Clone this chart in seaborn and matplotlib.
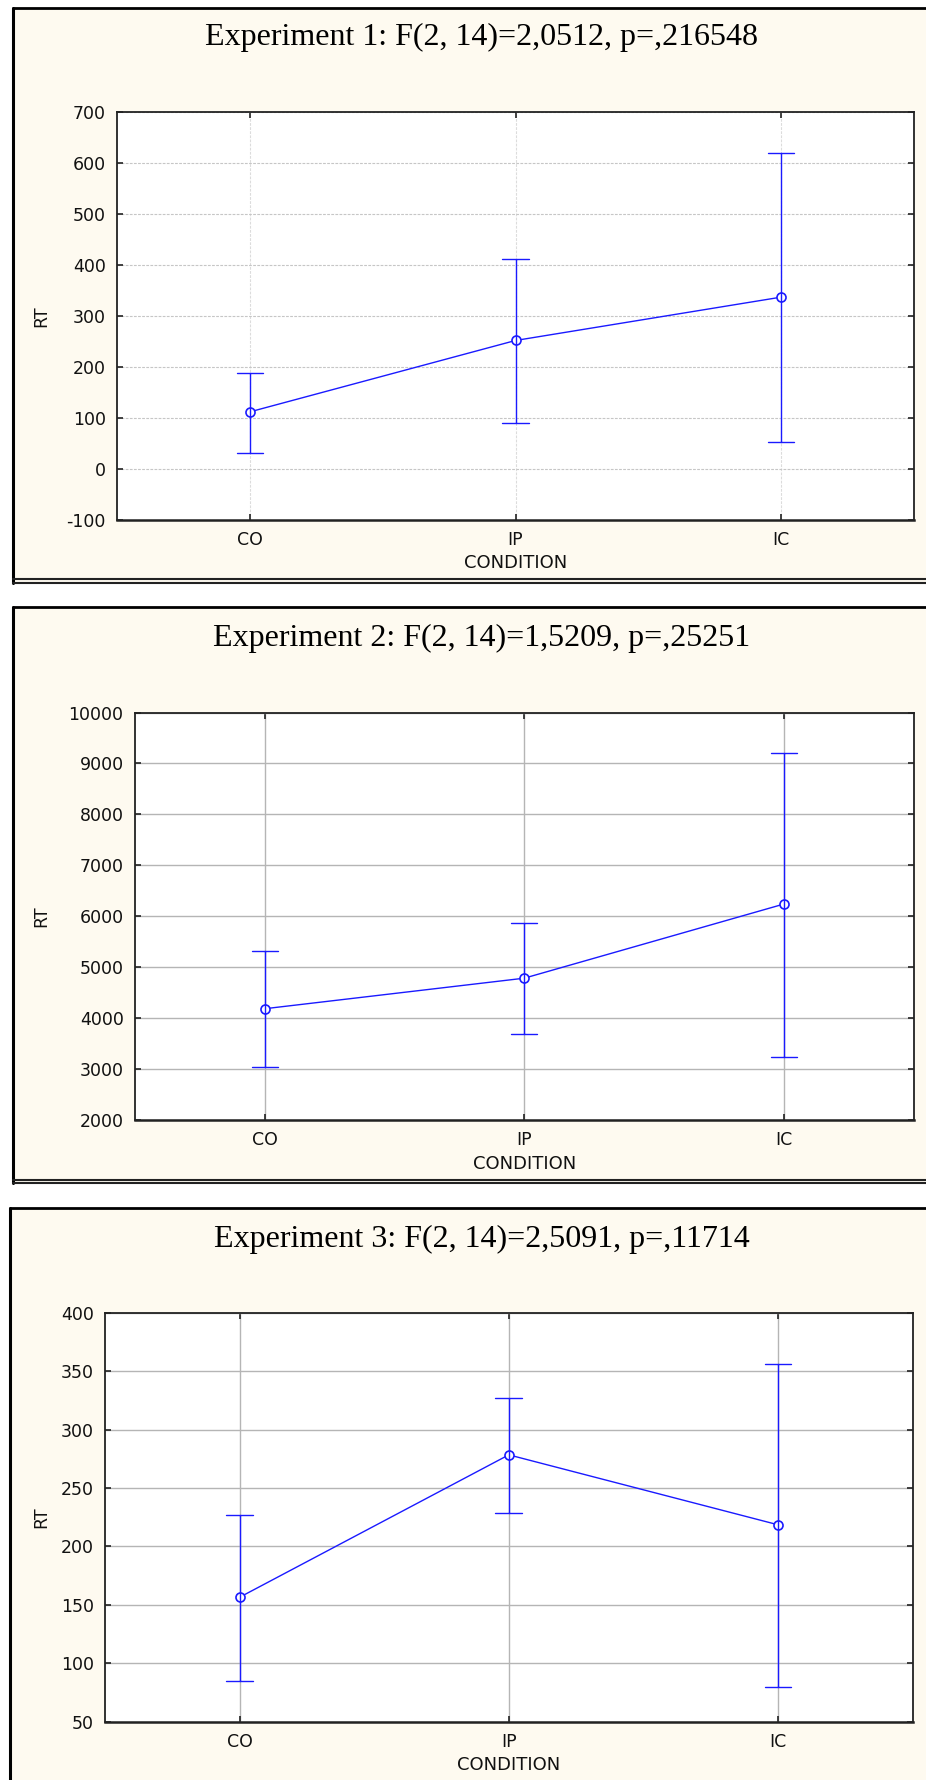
import numpy as np
import pandas as pd
import matplotlib
matplotlib.use("Agg")
import matplotlib.pyplot as plt
from matplotlib.patches import Rectangle
from matplotlib.lines import Line2D
import seaborn as sns

# ---------------- data ----------------
conditions = ["CO", "IP", "IC"]

titles = [
    "Experiment 1: F(2, 14)=2,0512, p=,216548",
    "Experiment 2: F(2, 14)=1,5209, p=,25251",
    "Experiment 3: F(2, 14)=2,5091, p=,11714",
]

exp1_mean = [112, 252, 337]
exp1_low = [32, 90, 52]
exp1_high = [189, 411, 619]

exp2_mean = [4184, 4784, 6240]
exp2_low = [3036, 3681, 3231]
exp2_high = [5317, 5872, 9212]

exp3_mean = [156.5, 278.5, 218.6]
exp3_low = [84.5, 228.5, 80]
exp3_high = [227.3, 327.5, 356.5]

y_limits = [(-100, 700), (2000, 10000), (50, 400)]
y_ticks = [
    [-100, 0, 100, 200, 300, 400, 500, 600, 700],
    [2000, 3000, 4000, 5000, 6000, 7000, 8000, 9000, 10000],
    [50, 100, 150, 200, 250, 300, 350, 400],
]
x_label = "CONDITION"
y_label = "RT"

# ---------------- layout (pixels) ----------------
W, H = 926, 1780
DPI = 100
frames = [(13, 7.5, 583), (13, 607, 1183), (9.5, 1207.7, 1800)]
axes_px = [(117, 112, 914, 520), (134.7, 712.5, 913.8, 1120), (105, 1313, 912.6, 1721.6)]
title_y = [37.6, 638, 1239]
title_x = 482
xlabel_y = [563, 1164, 1765]
ylabel_x = 41
ygrid_styles = [
    dict(color="#c6c6c6", linestyle=(0, (2.5, 1.2)), linewidth=0.8),
    dict(color="#b5b5b5", linestyle="-", linewidth=1.0),
    dict(color="#b5b5b5", linestyle="-", linewidth=1.0),
]
xgrid_styles = [
    dict(color="#dcdcdc", linestyle=(0, (2.5, 1.2)), linewidth=0.8),
    dict(color="#b5b5b5", linestyle="-", linewidth=1.0),
    dict(color="#b5b5b5", linestyle="-", linewidth=1.0),
]

sns.set_theme(style="white")
plt.rcParams["font.family"] = ["DejaVu Sans"]
plt.rcParams["axes.unicode_minus"] = False

fig = plt.figure(figsize=(W / DPI, H / DPI), dpi=DPI)
fig.patch.set_facecolor("white")

cream = "#fefaf0"

def fx(x):
    return x / W

def fy(y):
    return 1 - y / H

means = [exp1_mean, exp2_mean, exp3_mean]
lows = [exp1_low, exp2_low, exp3_low]
highs = [exp1_high, exp2_high, exp3_high]

for i in range(3):
    fl, ft, fb = frames[i]
    # panel frame
    fig.patches.append(Rectangle((fx(fl), fy(fb)), fx(W + 10 - fl), (fb - ft) / H,
                                 transform=fig.transFigure, facecolor=cream,
                                 edgecolor="none", zorder=-5))
    fig.lines.append(Line2D([fx(fl), fx(fl)], [fy(ft), fy(min(fb, H + 5))],
                            transform=fig.transFigure, color="black", linewidth=2.2))
    fig.lines.append(Line2D([fx(fl), 1.0], [fy(ft), fy(ft)],
                            transform=fig.transFigure, color="black", linewidth=2.0))
    if fb < H:
        fig.lines.append(Line2D([fx(fl), 1.0], [fy(fb - 3.5), fy(fb - 3.5)],
                                transform=fig.transFigure, color="#222222", linewidth=1.5))
        fig.lines.append(Line2D([fx(fl), 1.0], [fy(fb), fy(fb)],
                                transform=fig.transFigure, color="#222222", linewidth=1.5))

    x0, y0, x1, y1 = axes_px[i]
    ax = fig.add_axes([fx(x0), fy(y1), (x1 - x0) / W, (y1 - y0) / H])
    ax.set_zorder(1)
    ax.set_facecolor("white")

    df = pd.DataFrame({
        "CONDITION": conditions * 3,
        "RT": list(lows[i]) + list(means[i]) + list(highs[i]),
    })
    sns.pointplot(data=df, x="CONDITION", y="RT", order=conditions, ax=ax,
                  estimator=np.median,
                  errorbar=lambda v: (v.min(), v.max()),
                  color="#1a1aff", capsize=0.1,
                  markers="o", markersize=6.5, linewidth=1.0,
                  markerfacecolor="white", markeredgecolor="#1a1aff",
                  markeredgewidth=1.2,
                  err_kws={"linewidth": 1.0, "color": "#1a1aff"})

    ax.set_xlim(-0.5, 2.5)
    ax.set_ylim(*y_limits[i])
    ax.set_yticks(y_ticks[i])
    ax.yaxis.grid(True, **ygrid_styles[i])
    ax.xaxis.grid(True, **xgrid_styles[i])
    ax.set_axisbelow(True)
    for s in ax.spines.values():
        s.set_visible(True)
        s.set_color("#222222")
        s.set_linewidth(1.3)
    ax.spines["bottom"].set_linewidth(1.8)
    ax.tick_params(axis="both", direction="in", length=4, width=1.2, color="#222222",
                   top=True, right=True, left=True, bottom=True,
                   labelsize=12.5, labelcolor="#111111", pad=8)
    ax.set_xlabel("")
    ax.set_ylabel("")

    fig.text(title_x / W, fy(title_y[i]), titles[i], ha="center", va="center",
             fontsize=23, family=["Liberation Serif", "DejaVu Serif"], color="black")
    fig.text((x0 + x1) / 2 / W, fy(xlabel_y[i]), x_label, ha="center", va="center",
             fontsize=13, color="#111111")
    fig.text(fx(ylabel_x), fy((y0 + y1) / 2), y_label, ha="center", va="center",
             rotation=90, fontsize=12.5, color="#111111")

fig.savefig("out.png", dpi=DPI, facecolor="white")
